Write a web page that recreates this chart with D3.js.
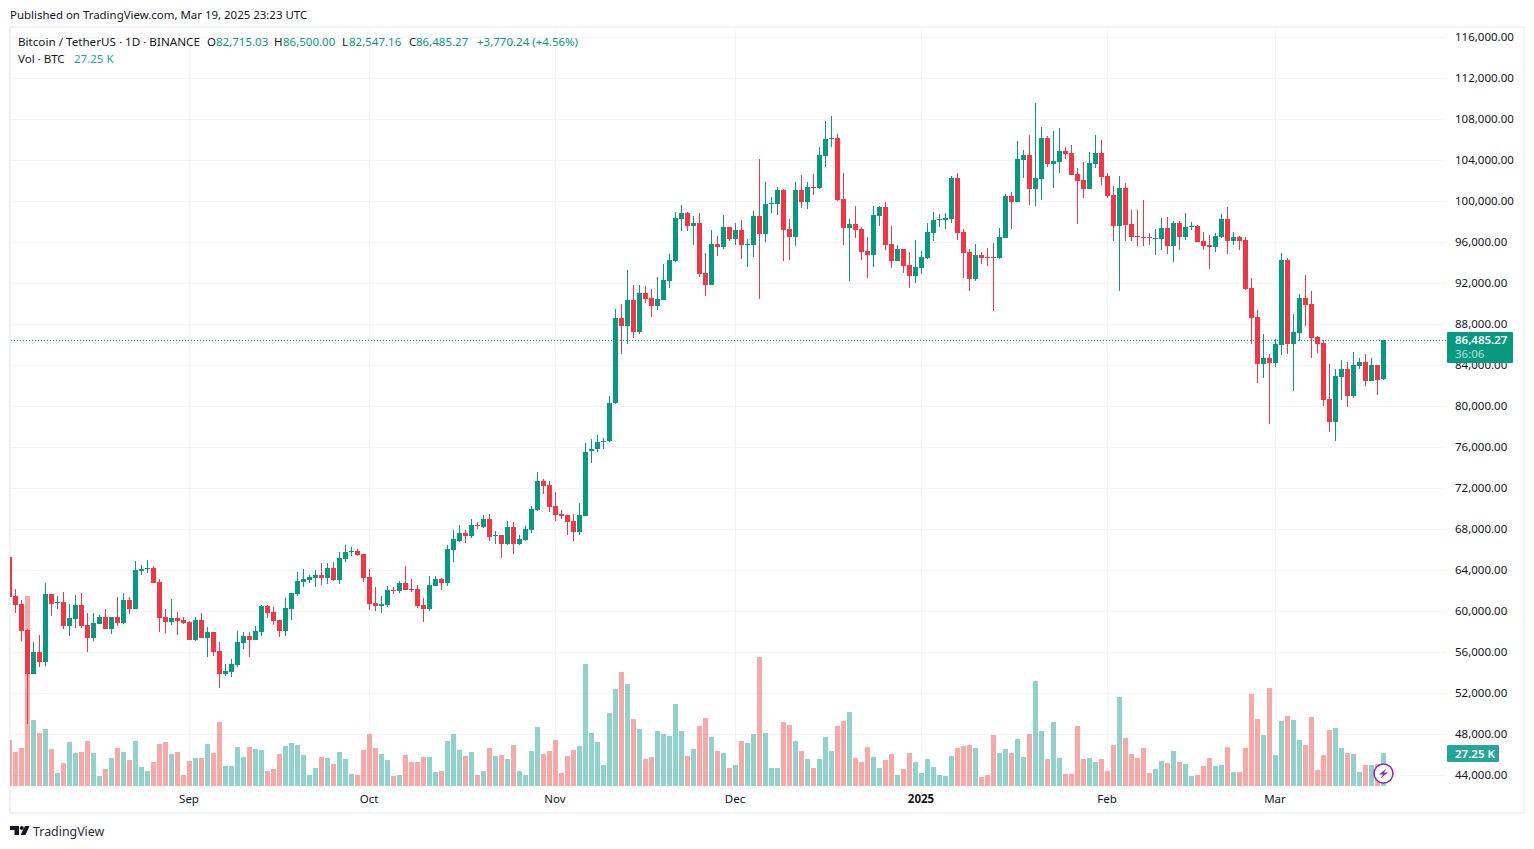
<!DOCTYPE html>
<html>
<head>
<meta charset="utf-8">
<title>BTCUSDT 1D</title>
<script src="https://cdn.jsdelivr.net/npm/d3@7"></script>
<style>
  html, body { margin: 0; padding: 0; background: #fff; }
  svg { display: block; }
  text { font-family: "Noto Sans", sans-serif; fill: #131722; }
</style>
</head>
<body>
<svg id="chart" width="1534" height="849"></svg>
<script>
// daily candles, first one is 2 Aug 2024
const startDate = Date.UTC(2024, 7, 2);

const opens = [
  65300,61500,60720,58180,53890,56030,55060,61690,60870,60910,
  58570,59250,60620,58670,57400,58760,59450,58280,59450,58860,
  61110,60230,63930,64130,64230,62860,59450,58960,59350,59150,
  58960,57200,59150,57400,57980,56130,53890,54080,54760,56910,
  57590,57200,57980,60520,59930,59150,58080,60230,61690,62860,
  63060,63250,63540,63250,64230,63060,65110,65790,65890,65590,
  63350,60810,60520,60620,62080,61980,62760,62180,62180,60620,
  60230,62470,63150,62760,65980,66860,67640,67350,68420,68230,
  69010,67350,67450,66570,68230,66570,66960,67940,69890,72720,
  72330,70280,69500,69400,68810,67740,69300,75640,75900,76540,
  76650,80300,88620,87840,90370,87250,91060,90570,89790,90370,
  92230,94180,98270,98860,97590,97890,93010,91840,95840,95540,
  97500,96330,97200,95740,95740,98570,96810,99740,99740,101110,
  97300,96520,101110,99940,101400,101300,104420,106080,106180,100230,
  97400,97790,97300,95150,94760,98570,99450,95840,94180,95350,
  93790,92720,93500,94470,96910,98180,98180,98280,102280,97010,
  95060,92420,94760,94570,94570,94470,96420,100520,99930,104030,
  104520,101200,102180,106180,103640,103840,104910,104720,102670,102080,
  101200,103640,104720,102470,100620,97590,101300,97790,96620,96520,
  96520,96330,96330,97400,95640,97890,96520,97500,97590,96130,
  95740,95540,96520,98280,96130,96520,96230,91540,88720,84130,
  84720,84230,85980,94280,86080,87150,90570,89990,86770,86180,
  80720,78470,82860,83640,81010,83930,84320,82470,84030,82715
];
const highs = [
  65600,62180,61110,58300,57010,57690,62760,61690,61500,61890,
  60720,61590,61790,59840,59840,59640,60230,59450,61400,61790,
  61400,64910,64520,65010,64420,63150,60230,61200,59930,59450,
  59060,59450,59840,58470,57980,57010,54860,55350,58080,57980,
  57980,58570,60620,60620,60420,59150,61300,61790,63840,64130,
  63540,64030,64720,64720,64810,65790,66470,66280,66080,65590,
  64130,62370,61500,62470,62370,62960,64420,63150,62570,61300,
  63450,63450,63250,66470,67940,68420,67940,69010,68720,69400,
  69500,67840,67450,68810,68720,67450,68330,70280,73590,72910,
  72720,71640,69890,69400,69500,70570,76420,76850,77200,76950,
  81000,89500,89980,93300,91840,91840,91740,91450,92620,93890,
  94860,98960,99640,98960,98570,98860,94960,97200,96620,98670,
  97500,97890,98180,96330,99060,104130,101890,100420,101400,101200,
  98280,101890,102570,101890,102670,105300,107840,108330,106570,102760,
  98280,99540,97500,96520,99540,99540,99930,97590,95740,95350,
  95060,96230,95150,97890,98960,98760,98860,102470,102760,97300,
  95350,95840,95060,95450,95930,97400,100720,100910,105890,105010,
  106470,109590,107250,106370,106860,107150,105300,105500,103250,103840,
  104810,106470,105980,102760,101500,102470,101790,99150,99150,100130,
  96910,97300,98370,98470,98080,98080,98860,97980,97690,97010,
  96720,96910,98760,99450,97010,96620,96520,92520,89400,87060,
  85110,86570,94960,94470,89010,90960,92810,91250,86860,86470,
  84130,83640,84520,84320,85300,84720,85110,84720,84030,86500
];
const lows = [
  61100,59840,57100,49000,53890,54570,54670,59550,60230,58280,
  57590,58370,58370,56030,57100,58760,58280,57790,58570,58760,
  59740,60230,63540,63740,62760,57980,57890,58670,57690,58760,
  57200,57100,57400,55540,55640,52520,53690,53590,54570,56330,
  55540,57200,57590,59350,58670,57500,57590,59150,61500,62370,
  62760,62370,62570,62670,62960,62670,64810,65400,65400,62860,
  60130,60030,59840,60420,61690,61790,62080,61890,60330,58960,
  60030,62470,62080,62470,64810,66760,66670,67150,68030,68130,
  66860,66570,65200,66470,65590,66470,66860,67640,69790,71450,
  69690,68810,69010,67450,66860,67450,69300,74500,75540,75830,
  76500,80200,85100,86080,86670,87060,90080,88720,89400,90370,
  91540,94080,97110,97110,95740,92620,90760,91840,94670,95350,
  96130,95740,94370,93590,94570,90470,96030,98860,98670,94180,
  94280,95640,99350,99250,100620,101240,103350,105300,100030,95740,
  92230,96420,94280,92520,93590,97590,95250,93500,94180,93010,
  91540,92030,92910,94370,96130,97500,97300,97890,96230,92520,
  91250,92230,93890,93690,89300,94370,96420,97300,99930,102280,
  99640,99540,100130,103350,101300,102760,104130,102570,97790,100330,
  101200,103250,101590,100330,96130,91250,96130,96130,95640,95640,
  95740,94760,95250,94860,94080,95250,96230,97200,96030,95250,
  93400,95060,96420,94860,95740,95250,91350,86080,82280,82760,
  78280,83840,85010,85110,81500,86370,87840,84720,85200,80030,
  77500,76620,80620,79940,80820,83640,81980,82470,81110,82547
];
const closes = [
  61400,60620,58080,53890,56030,55060,61690,60720,60910,58570,
  59350,60620,58570,57400,58860,59450,58280,59450,58860,61110,
  60230,64030,64130,64230,62760,59350,58960,59350,59060,58860,
  57200,59150,57400,57980,56030,53890,54180,54860,57010,57590,
  57200,58080,60520,59840,59060,58080,60330,61790,62960,63150,
  63350,63540,63250,64230,63060,65200,65790,65890,65500,63250,
  60720,60520,60720,62080,61980,62760,62080,62080,60520,60230,
  62570,63150,62760,66080,67060,67640,67350,68420,68330,69010,
  67250,67450,66570,68230,66570,67060,68030,69980,72720,72230,
  70180,69400,69300,68720,67740,69400,75540,75900,76540,76650,
  80300,88620,87840,90370,87250,91060,90470,89790,90470,92330,
  94280,98370,98860,97590,97890,92910,91840,95840,95540,97500,
  96330,97200,95740,95840,98570,96810,99740,99840,101110,97200,
  96520,101110,99940,101400,101300,104520,106080,106180,100130,97400,
  97790,97200,95060,94760,98670,99450,95740,94180,95350,93690,
  92720,93590,94570,97010,98180,98280,98370,102280,96910,94960,
  92420,94760,94470,94470,94470,96520,100520,99930,104130,104520,
  101200,102280,106180,103640,103930,104910,104620,102570,101980,101200,
  103740,104720,102370,100520,97590,101300,97690,96520,96520,96420,
  96420,96420,97400,95640,97890,96520,97500,97590,96030,95640,
  95540,96620,98280,96130,96520,96130,91450,88620,84130,84720,
  84230,86080,94280,86080,87250,90570,89890,86670,86080,80620,
  78470,82960,83640,81010,84030,84320,82470,84030,82570,86485
];
// volume in thousand BTC
const volumes = [
  38.0,28.1,31.4,157,54.5,43.8,47.1,30.6,10.7,19.0,
  36.3,27.3,28.1,37.2,27.3,8.3,14.0,23.1,31.4,28.1,
  21.5,37.2,15.7,12.4,19.8,34.7,36.3,26.4,28.1,9.1,
  20.6,23.1,23.1,34.7,27.3,52.9,16.5,16.5,32.2,24.0,
  32.2,30.6,29.7,12.4,14.0,26.4,33.0,35.5,33.9,25.6,
  9.1,14.9,24.0,23.1,18.2,28.1,22.3,9.9,9.1,29.7,
  42.9,31.4,26.4,21.5,8.3,9.1,25.6,19.8,19.8,24.0,
  24.0,11.6,12.4,37.2,42.9,29.7,24.8,28.1,9.1,12.4,
  31.4,24.8,25.6,22.3,33.9,12.4,9.1,28.9,48.7,26.4,
  28.9,38.0,10.7,24.8,29.7,33.0,100.8,43.8,36.3,17.3,
  60.3,80.1,94.2,84.2,55.3,47.1,22.3,24.0,45.4,42.9,
  41.3,67.7,45.4,24.8,30.6,49.6,56.2,40.5,28.9,27.3,
  14.9,17.3,37.2,35.5,42.9,106.5,43.8,14.9,14.9,52.9,
  50.4,37.2,28.9,22.3,14.9,22.3,40.5,28.9,49.6,53.7,
  61.1,23.1,19.8,32.2,24.0,14.9,21.5,26.4,9.1,14.0,
  27.3,19.8,10.7,22.3,15.7,9.1,8.3,24.8,31.4,33.0,
  33.9,31.4,7.4,9.1,42.1,27.3,30.6,27.3,38.8,24.0,
  42.9,86.7,45.4,22.3,52.9,23.1,9.9,9.9,49.6,22.3,
  23.1,19.8,22.3,12.4,33.9,73.5,39.6,26.4,23.1,31.4,
  10.7,14.0,20.6,19.0,28.9,19.8,18.2,8.3,9.1,16.5,
  23.1,16.5,17.3,32.2,11.6,11.6,31.4,76.0,55.3,42.1,
  80.9,25.6,53.7,57.8,54.5,38.0,33.9,57.0,13.2,25.6,
  46.3,47.9,31.4,27.3,26.4,11.6,17.3,17.3,18.2,27.25
];

const priceTicks = [116000,112000,108000,104000,100000,96000,92000,88000,84000,80000,76000,72000,68000,64000,60000,56000,52000,48000,44000];
const monthTicks = [Date.UTC(2024,8,1), Date.UTC(2024,9,1), Date.UTC(2024,10,1), Date.UTC(2024,11,1), Date.UTC(2025,0,1), Date.UTC(2025,1,1), Date.UTC(2025,2,1)];
const monthLabels = ["Sep","Oct","Nov","Dec","2025","Feb","Mar"];

const lastPrice = 86485.27, lastVolume = 27.25;

const upColor = "#089981", downColor = "#f23645";
const gridColor = "#f3f4f6", frameColor = "#f0f3fa";

const svg = d3.select("#chart");
const dates = opens.map((d, i) => new Date(startDate + i * 864e5));

const x = d3.scaleUtc()
  .domain([dates[0], dates[dates.length - 1]])
  .range([9.5, 1383.5]);
const y = d3.scaleLinear().domain([44000, 116000]).range([775.5, 37.5]);
const yVol = d3.scaleLinear().domain([0, 157]).range([786, 596]);

svg.append("defs").append("clipPath").attr("id", "plot")
  .append("rect").attr("x", 10).attr("y", 27).attr("width", 1436).attr("height", 786);

// frame sits under the marks
svg.append("rect")
  .attr("x", 10).attr("y", 27).attr("width", 1514).attr("height", 786)
  .attr("fill", "none").attr("stroke", frameColor).attr("stroke-width", 2);

// grid
const grid = svg.append("g").attr("stroke", gridColor).attr("stroke-width", 1);
grid.selectAll("line.h").data(priceTicks).enter().append("line")
  .attr("x1", 10).attr("x2", 1446)
  .attr("y1", d => y(d)).attr("y2", d => y(d));
grid.selectAll("line.v").data(monthTicks).enter().append("line")
  .attr("x1", d => x(d)).attr("x2", d => x(d))
  .attr("y1", 27).attr("y2", 813);

// last price line
svg.append("line")
  .attr("x1", 11).attr("x2", 1446)
  .attr("y1", Math.round(y(lastPrice)) + 0.5).attr("y2", Math.round(y(lastPrice)) + 0.5)
  .attr("stroke", upColor).attr("stroke-dasharray", "1 2");

const plot = svg.append("g").attr("clip-path", "url(#plot)").attr("shape-rendering", "crispEdges");

// volume goes under the candles
plot.selectAll("rect.vol").data(volumes).enter().append("rect")
  .attr("class", "vol")
  .attr("x", (d, i) => x(dates[i]) - 2.5)
  .attr("width", 5)
  .attr("y", d => Math.round(yVol(d)))
  .attr("height", d => 786 - Math.round(yVol(d)))
  .attr("fill", (d, i) => closes[i] >= opens[i] ? "#26a69a" : "#ef5350")
  .attr("fill-opacity", 0.5);

const candles = plot.selectAll("g.candle").data(opens).enter().append("g")
  .attr("class", "candle")
  .attr("fill", (d, i) => closes[i] >= opens[i] ? upColor : downColor);

candles.append("rect")
  .attr("x", (d, i) => x(dates[i]) - 0.5)
  .attr("width", 1)
  .attr("y", (d, i) => Math.round(y(highs[i])))
  .attr("height", (d, i) => Math.round(y(lows[i])) - Math.round(y(highs[i])));

candles.append("rect")
  .attr("x", (d, i) => x(dates[i]) - 2.5)
  .attr("width", 5)
  .attr("y", (d, i) => Math.round(y(Math.max(opens[i], closes[i]))))
  .attr("height", (d, i) => Math.max(1, Math.round(y(Math.min(opens[i], closes[i]))) - Math.round(y(Math.max(opens[i], closes[i])))));

// axes
const yAxis = d3.axisRight(y).tickValues(priceTicks).tickSize(0).tickPadding(0).tickFormat(d3.format(",.2f"));
const yG = svg.append("g").attr("transform", "translate(1455,-1)").call(yAxis);
yG.select(".domain").remove();
yG.selectAll("text").attr("font-size", 11.5).style("font-family", null).style("fill", "#131722");

const xAxis = d3.axisBottom(x).tickValues(monthTicks).tickSize(0).tickPadding(0)
  .tickFormat((d, i) => monthLabels[i]);
const xG = svg.append("g").attr("transform", "translate(-1,795)").call(xAxis);
xG.select(".domain").remove();
xG.selectAll("text").attr("font-size", 11.5).attr("font-weight", (d, i) => monthLabels[i] === "2025" ? 700 : 400);

// header texts
function label(px, py, str, color, size) {
  return svg.append("text").attr("x", px).attr("y", py)
    .attr("font-size", size || 11.5)
    .style("fill", color || "#131722").text(str);
}
label(10, 19, "Published on TradingView.com, Mar 19, 2025 23:23 UTC", null, 11.45);
label(18, 46, "Bitcoin / TetherUS · 1D · BINANCE", null, 11.65);
[["O", 207, "82,715.03", 216], ["H", 274, "86,500.00", 283], ["L", 342, "82,547.16", 349], ["C", 409, "86,485.27", 416]]
  .forEach(d => {
    label(d[1], 46, d[0]);
    label(d[3], 46, d[2], upColor);
  });
label(477, 46, "+3,770.24 (+4.56%)", upColor);
label(18, 63, "Vol · BTC");
label(74, 63, "27.25 K", "#26a69a");

// last price tag
svg.append("rect").attr("x", 1447).attr("y", 332).attr("width", 66).attr("height", 31).attr("rx", 1).attr("fill", upColor);
label(1455, 344, "86,485.27", "#ffffff").attr("font-weight", 600);
label(1455, 358, "36:06", "#b5e0d9");

// last volume tag
svg.append("rect").attr("x", 1447).attr("y", 745).attr("width", 52).attr("height", 17).attr("rx", 1).attr("fill", "#26a69a");
label(1455, 758, "27.25 K", "#ffffff").attr("font-weight", 600);

// lightning badge
svg.append("circle").attr("cx", 1383.5).attr("cy", 773.5).attr("r", 9.5)
  .attr("fill", "#fff").attr("stroke", "#9c27b0").attr("stroke-width", 1.6);
svg.append("path")
  .attr("d", "M1386.5 768.5 L1379 774.5 L1383 774.5 L1380.5 778.5 L1388 772.5 L1384 772.5 Z")
  .attr("fill", "#9c27b0");

// logo
svg.append("path")
  .attr("d", "M10 826 H19 V835 H14.5 V830 H10 Z M25 826 H29.5 L25.5 835 H20.5 Z")
  .attr("fill", "#131722");
svg.append("circle").attr("cx", 21.8).attr("cy", 828).attr("r", 2).attr("fill", "#131722");
label(33, 836, "TradingView", "#2a2e39", 12.4);
</script>
</body>
</html>
